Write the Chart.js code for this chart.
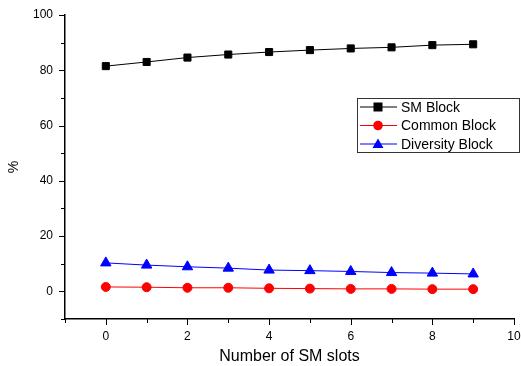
<!DOCTYPE html>
<html>
<head>
<meta charset="utf-8">
<script src="https://cdn.jsdelivr.net/npm/chart.js@4.4.1/dist/chart.umd.min.js"></script>
<style>
  html, body { margin: 0; padding: 0; background: #fff; }
  #chart { display: block; }
</style>
</head>
<body>
<canvas id="chart" width="521" height="366"></canvas>
<script>
// SM slot counts (x axis)
const slots = [0, 1, 2, 3, 4, 5, 6, 7, 8, 9];

// series values in %
const smBlock = [81.5, 83.0, 84.6, 85.7, 86.6, 87.3, 87.9, 88.3, 89.1, 89.4];
const commonBlock = [1.6, 1.5, 1.3, 1.3, 1.1, 1.0, 0.9, 0.9, 0.8, 0.8];
const diversityBlock = [10.3, 9.5, 8.9, 8.4, 7.7, 7.5, 7.2, 6.8, 6.6, 6.3];

const xTicks = [0, 2, 4, 6, 8, 10];
const yTicks = [0, 20, 40, 60, 80, 100];

const FONT = 'Arial, "Liberation Sans", sans-serif';

function toPoints(values) {
    return slots.map((s, i) => ({ x: s, y: values[i] }));
}

// draws outward major/minor ticks on both axes
const tickMarks = {
    id: 'tickMarks',
    afterDraw(chart) {
        const ctx = chart.ctx;
        const xs = chart.scales.x;
        const ys = chart.scales.y;
        const area = chart.chartArea;
        ctx.save();
        ctx.strokeStyle = '#000';
        ctx.lineWidth = 1;
        for (let v = -1; v <= 10; v++) {
            const px = Math.round(xs.getPixelForValue(v)) + 0.5;
            const len = v % 2 === 0 ? 6 : 4;
            ctx.beginPath();
            ctx.moveTo(px, area.bottom);
            ctx.lineTo(px, area.bottom + len);
            ctx.stroke();
        }
        for (let v = -10; v <= 100; v += 10) {
            const py = Math.round(ys.getPixelForValue(v)) + 0.5;
            const len = v % 20 === 0 ? 6 : 4;
            ctx.beginPath();
            ctx.moveTo(area.left, py);
            ctx.lineTo(area.left - len, py);
            ctx.stroke();
        }
        ctx.restore();
    }
};

// boxed legend with line + marker samples
const boxLegend = {
    id: 'boxLegend',
    afterDraw(chart) {
        const ctx = chart.ctx;
        const left = 357, top = 98, width = 162, height = 54;
        ctx.save();
        ctx.fillStyle = '#fff';
        ctx.fillRect(left, top, width, height);
        ctx.strokeStyle = '#333';
        ctx.lineWidth = 1;
        ctx.strokeRect(left + 0.5, top + 0.5, width, height);
        ctx.font = '14px ' + FONT;
        ctx.textBaseline = 'middle';
        chart.data.datasets.forEach((ds, i) => {
            const y = top + 9 + i * 18.5;
            ctx.strokeStyle = ds.borderColor;
            ctx.lineWidth = 1;
            ctx.beginPath();
            ctx.moveTo(left + 3, y);
            ctx.lineTo(left + 40, y);
            ctx.stroke();
            ctx.fillStyle = ds.pointBackgroundColor;
            const cx = left + 21;
            if (ds.pointStyle === 'rect') {
                ctx.fillRect(cx - 4.5, y - 4.5, 9, 9);
            } else if (ds.pointStyle === 'circle') {
                ctx.beginPath();
                ctx.arc(cx, y, 4.8, 0, Math.PI * 2);
                ctx.fill();
            } else {
                ctx.beginPath();
                ctx.moveTo(cx, y - 5.5);
                ctx.lineTo(cx + 5.5, y + 4);
                ctx.lineTo(cx - 5.5, y + 4);
                ctx.closePath();
                ctx.fill();
            }
            ctx.fillStyle = '#000';
            ctx.fillText(ds.label, left + 44, y + 1);
        });
        ctx.restore();
    }
};

new Chart(document.getElementById('chart'), {
    type: 'line',
    data: {
        datasets: [
            {
                label: 'SM Block',
                data: toPoints(smBlock),
                borderColor: '#000',
                backgroundColor: '#000',
                pointBackgroundColor: '#000',
                pointBorderColor: '#000',
                pointStyle: 'rect',
                pointRadius: 5,
                borderWidth: 1
            },
            {
                label: 'Common Block',
                data: toPoints(commonBlock),
                borderColor: '#ff0000',
                backgroundColor: '#ff0000',
                pointBackgroundColor: '#ff0000',
                pointBorderColor: '#ff0000',
                pointStyle: 'circle',
                pointRadius: 4.5,
                borderWidth: 1
            },
            {
                label: 'Diversity Block',
                data: toPoints(diversityBlock),
                borderColor: '#0000ff',
                backgroundColor: '#0000ff',
                pointBackgroundColor: '#0000ff',
                pointBorderColor: '#0000ff',
                pointStyle: 'triangle',
                pointRadius: 6,
                borderWidth: 1
            }
        ]
    },
    options: {
        responsive: false,
        animation: false,
        layout: { padding: { top: 15, right: 7, left: 0, bottom: 0 } },
        plugins: {
            legend: { display: false },
            tooltip: { enabled: false }
        },
        scales: {
            x: {
                type: 'linear',
                min: -1,
                max: 10,
                afterFit(scale) {
                    scale.height = 47;
                    scale.paddingLeft = 0;
                    scale.paddingRight = 0;
                },
                afterBuildTicks(scale) { scale.ticks = xTicks.map(v => ({ value: v })); },
                grid: { display: false, drawTicks: false },
                border: { display: true, color: '#000', width: 1.5 },
                ticks: {
                    color: '#000',
                    font: { family: FONT, size: 12 },
                    padding: 10,
                    maxRotation: 0
                },
                title: {
                    display: true,
                    text: 'Number of SM slots',
                    color: '#000',
                    font: { family: FONT, size: 16 },
                    padding: { top: 0, bottom: 0 }
                }
            },
            y: {
                type: 'linear',
                min: -10,
                max: 100,
                afterFit(scale) {
                    scale.width = 65;
                    scale.paddingTop = 0;
                    scale.paddingBottom = 0;
                },
                afterBuildTicks(scale) { scale.ticks = yTicks.map(v => ({ value: v })); },
                grid: { display: false, drawTicks: false },
                border: { display: true, color: '#000', width: 1.5 },
                ticks: {
                    color: '#000',
                    font: { family: FONT, size: 12 },
                    padding: 12
                },
                title: {
                    display: true,
                    text: '%',
                    color: '#000',
                    font: { family: FONT, size: 14 },
                    padding: { top: 6, bottom: 0 }
                }
            }
        }
    },
    plugins: [tickMarks, boxLegend]
});
</script>
</body>
</html>
